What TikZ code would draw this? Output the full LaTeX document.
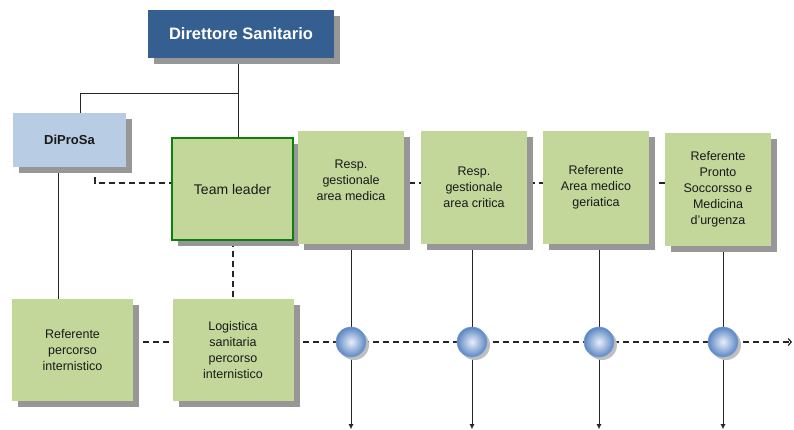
\documentclass[tikz,border=0pt]{standalone}
\usepackage{fontspec}
\setmainfont{Liberation Sans}
\usetikzlibrary{arrows.meta,shadows,backgrounds}
\definecolor{dsblue}{HTML}{365F91}
\definecolor{lblue}{HTML}{B8CCE4}
\definecolor{boxgreen}{HTML}{C4D79B}
\definecolor{tlgreen}{HTML}{0B800B}
\definecolor{shgray}{HTML}{979797}
\definecolor{ballin}{HTML}{E8EFF8}
\definecolor{ballout}{HTML}{5A86C4}
\newcommand{\arw}{-{Latex[length=5pt,width=5pt]}}
\tikzset{dsh/.style={dash pattern=on 6pt off 4pt,line width=1.2pt,black!85}}

\begin{document}
\begin{tikzpicture}[x=1pt,y=-1pt,
  box/.style={align=center,inner sep=2pt,text=black!90,
    drop shadow={shadow xshift=6pt,shadow yshift=-6pt,fill=shgray,opacity=1},
    font=\fontsize{12.5}{16}\selectfont},
  gbox/.style={box,fill=boxgreen,minimum width=106pt,minimum height=113pt},
  lbox/.style={box,fill=boxgreen,minimum width=121pt,minimum height=102pt},
  ball/.style={circle,minimum size=30pt,inner sep=0pt,draw=ballout!80,line width=.6pt,
    shade,inner color=ballin,outer color=ballout,
    drop shadow={shadow xshift=3pt,shadow yshift=-3pt,fill=black!25,opacity=1}}]
\useasboundingbox (0,0) rectangle (794,429);
%top
\node[box,fill=dsblue,text=white,minimum width=186pt,minimum height=48pt,
  font=\bfseries\fontsize{16.5}{18}\selectfont] (dir) at (241,34) {Direttore Sanitario};
\node[box,fill=lblue,minimum width=113pt,minimum height=54pt,
  font=\bfseries\fontsize{13}{16}\selectfont] (dps) at (69.5,140) {DiProSa};
\node[lbox,draw=tlgreen,line width=2pt,font=\fontsize{14}{16}\selectfont] (team) at (232.5,189) {Team leader};
%referenti
\node[gbox] (rgm) at (351,187.5) {};
\node[align=center,font=\fontsize{12.5}{16}\selectfont,text=black!90] (rgmt) at (351,180) {Resp.\\gestionale\\area medica};
\node[gbox] (rgc) at (474,187.5) {Resp.\\gestionale\\area critica};
\node[gbox] (rag) at (596,187.5) {Referente\\Area medico\\geriatica};
\node[gbox] (rps) at (718,189.5) {Referente\\Pronto\\Soccorsso e\\Medicina\\d'urgenza};
%bottom
\node[lbox] (rpi) at (72.5,350) {Referente\\percorso\\internistico};
\node[lbox] (log) at (233,350) {Logistica\\sanitaria\\percorso\\internistico};
%nodes on the line
\node[ball] (b1) at (351,342) {};
\node[ball] (b2) at (472,342) {};
\node[ball] (b3) at (599,342) {};
\node[ball] (b4) at (723,342) {};
\coordinate (e1) at (351,429);
\coordinate (e2) at (472,429);
\coordinate (e3) at (599,429);
\coordinate (e4) at (723,429);
\coordinate (eh) at (792,342);
\coordinate (br) at (238,93);
\begin{pgfonlayer}{background}
\draw[black!85] (dir.south -| br) -- (team.north -| br);
\draw[black!85] (br) -| (dps.north -| 80,0);
\draw[black!85] (dps.south -| 58,0) -- (rpi.north -| 58,0);
\draw[dsh] (dps.south -| 95,0) |- (rps.west |- 0,183);
\draw[dsh] (team.south -| 233,0) -- (log.north -| 233,0);
\draw[dsh,-{Straight Barb[length=3pt,width=7pt]}] (rpi.east |- eh) -- (eh);
\draw[black!85,\arw] (rgm.south -| b1) -- (e1);
\draw[black!85,\arw] (rgc.south -| b2) -- (e2);
\draw[black!85,\arw] (rag.south -| b3) -- (e3);
\draw[black!85,\arw] (rps.south -| b4) -- (e4);
\end{pgfonlayer}
\end{tikzpicture}
\end{document}
